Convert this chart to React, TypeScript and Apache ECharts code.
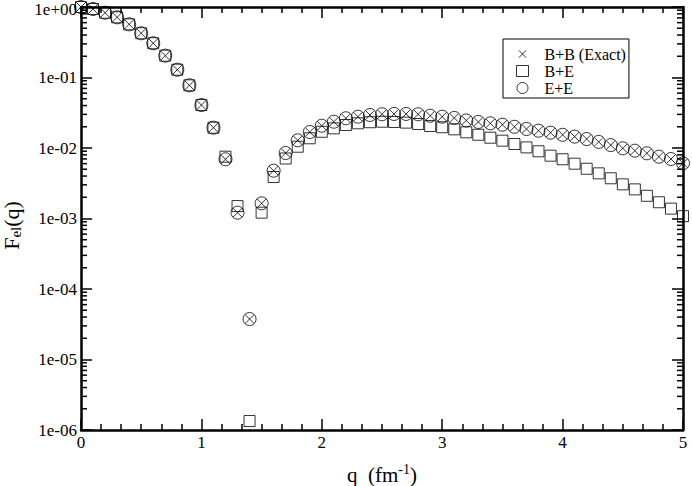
import React, { useEffect, useRef } from "react";
import * as echarts from "echarts";

const qValues = [
  0, 0.1, 0.2, 0.3, 0.4, 0.5, 0.6, 0.7, 0.8, 0.9, 1.0, 1.1, 1.2, 1.3, 1.4, 1.5, 1.6, 1.7, 1.8, 1.9,
  2.0, 2.1, 2.2, 2.3, 2.4, 2.5, 2.6, 2.7, 2.8, 2.9, 3.0, 3.1, 3.2, 3.3, 3.4, 3.5, 3.6, 3.7, 3.8, 3.9,
  4.0, 4.1, 4.2, 4.3, 4.4, 4.5, 4.6, 4.7, 4.8, 4.9, 5.0,
];

const exactBB = [
  1.0, 0.937, 0.83, 0.714, 0.568, 0.424, 0.306, 0.204, 0.129, 0.0775, 0.0407, 0.0194, 0.00692, 0.00121,
  3.75e-5, 1.64e-3, 4.77e-3, 8.49e-3, 0.01286, 0.01686, 0.0207, 0.0236, 0.0264, 0.0278, 0.0294, 0.0301,
  0.0304, 0.0304, 0.0301, 0.0287, 0.0278, 0.0267, 0.0246, 0.0234, 0.0224, 0.0214, 0.02, 0.0186, 0.0176,
  0.0165, 0.0154, 0.0145, 0.0134, 0.0122, 0.011, 0.0099, 0.00916, 0.00841, 0.00753, 0.00698, 0.00607,
];

const BE = [
  1.0, 0.937, 0.83, 0.714, 0.568, 0.424, 0.306, 0.204, 0.129, 0.0775, 0.0407, 0.0194, 0.00753, 0.0015,
  1.34e-6, 1.21e-3, 3.88e-3, 7.1e-3, 0.01043, 0.01373, 0.017, 0.019, 0.0212, 0.0224, 0.0232, 0.0236,
  0.0234, 0.0229, 0.0219, 0.0205, 0.0197, 0.0184, 0.0167, 0.0154, 0.014, 0.0127, 0.0114, 0.0102, 0.00898,
  0.00778, 0.00692, 0.00599, 0.00508, 0.00437, 0.00372, 0.00305, 0.00259, 0.0021, 0.0017, 0.00138, 0.00108,
];

const EE = [
  1.0, 0.937, 0.83, 0.714, 0.568, 0.424, 0.306, 0.204, 0.129, 0.0775, 0.0407, 0.0194, 0.00692, 0.00121,
  3.75e-5, 1.64e-3, 4.77e-3, 8.49e-3, 0.01286, 0.01686, 0.0207, 0.0236, 0.0264, 0.0278, 0.0294, 0.0301,
  0.0304, 0.0304, 0.0301, 0.0287, 0.0278, 0.0267, 0.0246, 0.0234, 0.0224, 0.0214, 0.02, 0.0186, 0.0176,
  0.0165, 0.0154, 0.0145, 0.0134, 0.0122, 0.011, 0.0099, 0.00916, 0.00841, 0.00753, 0.00698, 0.00607,
];

const seriesNames = ["B+B (Exact)", "B+E", "E+E"];
const decades = [1e-6, 1e-5, 1e-4, 1e-3, 1e-2, 1e-1];
const minorMultipliers = [2, 3, 4, 5, 6, 7, 8, 9];

const FONT = "Liberation Serif";
const CROSS = "path://M0,0L10,10M10,0L0,10";
const CROSS_LEGEND = "path://M0,0L0,0M2,2L10,10M10,2L2,10M12,12L12,12";

function fmtExp(v: number): string {
  const e = Math.round(Math.log10(v));
  const s = e >= 0 ? "+" : "-";
  const txt = "1e" + s + String(Math.abs(e)).padStart(2, "0");
  return e >= 0 ? "{t|" + txt + "}" : txt;
}

export default function App() {
  const ref = useRef<HTMLDivElement>(null);

  useEffect(() => {
    if (!ref.current) return;
    const chart = echarts.init(ref.current, undefined, { renderer: "svg" });

    const minorTickValues: number[][] = [];
    decades.forEach((d) => minorMultipliers.forEach((m) => minorTickValues.push([0, d * m])));

    const pts = (ys: number[]) => qValues.map((q, i) => [q, ys[i]]);

    const tickStyle = { color: "#000", width: 1.5 };
    const axisLine = { show: true, onZero: false, lineStyle: { color: "#000", width: 2.5 } };

    const option: any = {
      animation: false,
      backgroundColor: "#fff",
      grid: {
        left: 81,
        right: 9,
        top: 7,
        bottom: 56,
        containLabel: false,
        outerBoundsMode: "none",
      },
      legend: {
        orient: "vertical",
        left: 503,
        top: 39,
        padding: [7, 3, 2, 13],
        itemGap: 1,
        itemWidth: 12,
        itemHeight: 11,
        borderColor: "#000",
        borderWidth: 1,
        borderRadius: 0,
        selectedMode: false,
        itemStyle: { borderWidth: 1, borderColor: "#000", color: "rgba(0,0,0,0)" },
        textStyle: { fontFamily: FONT, fontSize: 16, color: "#000", padding: [0, 0, 0, 11] },
        data: [
          { name: seriesNames[0], icon: CROSS_LEGEND },
          { name: seriesNames[1], icon: "rect" },
          { name: seriesNames[2], icon: "circle" },
        ],
      },
      xAxis: [
        {
          type: "value",
          min: 0,
          max: 5,
          interval: 1,
          position: "bottom",
          axisLine,
          axisTick: { show: true, inside: true, length: 11, lineStyle: tickStyle },
          minorTick: { show: true, splitNumber: 6, length: 6, lineStyle: tickStyle },
          splitLine: { show: false },
          minorSplitLine: { show: false },
          axisLabel: { fontFamily: FONT, fontSize: 17, color: "#000", margin: 4 },
          name: "{a|q  (fm}{s|-1}{a|)}",
          nameLocation: "middle",
          nameGap: 32,
          nameTextStyle: {
            rich: {
              a: { fontFamily: FONT, fontSize: 21, color: "#000" },
              s: { fontFamily: FONT, fontSize: 14, color: "#000", padding: [0, 0, 12, 0] },
            },
          },
        },
        {
          type: "value",
          min: 0,
          max: 5,
          interval: 1,
          position: "top",
          axisLine,
          axisTick: { show: true, inside: true, length: 11, lineStyle: tickStyle },
          minorTick: { show: true, splitNumber: 6, length: 6, lineStyle: tickStyle },
          splitLine: { show: false },
          axisLabel: { show: false },
        },
      ],
      yAxis: [
        {
          type: "log",
          logBase: 10,
          min: 1e-6,
          max: 1,
          position: "left",
          axisLine,
          axisTick: { show: true, inside: true, length: 11, lineStyle: tickStyle },
          splitLine: { show: false },
          axisLabel: {
            fontFamily: FONT,
            fontSize: 17,
            lineHeight: 14,
            color: "#000",
            margin: 4,
            formatter: fmtExp,
            rich: {
              t: {
                fontFamily: FONT,
                fontSize: 17,
                lineHeight: 14,
                color: "#000",
                padding: [5, 0, 0, 0],
              },
            },
          },
          name: "{a|F}{b|el}{a|(q)}",
          nameLocation: "middle",
          nameGap: 57,
          nameTextStyle: {
            padding: [0, 14, 0, 0],
            rich: {
              a: { fontFamily: FONT, fontSize: 22, color: "#000" },
              b: { fontFamily: FONT, fontSize: 15, color: "#000", padding: [9, 0, 0, 0] },
            },
          },
        },
        {
          type: "log",
          logBase: 10,
          min: 1e-6,
          max: 1,
          position: "right",
          axisLine,
          axisTick: { show: true, inside: true, length: 11, lineStyle: tickStyle },
          splitLine: { show: false },
          axisLabel: { show: false },
        },
      ],
      series: [
        {
          name: seriesNames[0],
          type: "scatter",
          symbol: CROSS,
          symbolSize: 9,
          clip: false,
          itemStyle: { color: "rgba(0,0,0,0)", borderColor: "#000", borderWidth: 1 },
          data: pts(exactBB),
        },
        {
          name: seriesNames[1],
          type: "scatter",
          symbol: "rect",
          symbolSize: 11,
          clip: false,
          itemStyle: { color: "rgba(0,0,0,0)", borderColor: "#000", borderWidth: 1 },
          data: pts(BE),
        },
        {
          name: seriesNames[2],
          type: "scatter",
          symbol: "circle",
          symbolSize: 13,
          clip: false,
          itemStyle: { color: "rgba(0,0,0,0)", borderColor: "#000", borderWidth: 1 },
          data: pts(EE),
        },
        {
          name: "minorLogTicks",
          type: "custom",
          silent: true,
          clip: false,
          xAxisIndex: 0,
          yAxisIndex: 0,
          data: minorTickValues,
          renderItem: (params: any, api: any) => {
            const v = api.value(1);
            const pL = api.coord([0, v]);
            const pR = api.coord([5, v]);
            return {
              type: "group",
              children: [
                {
                  type: "line",
                  shape: { x1: pL[0], y1: pL[1], x2: pL[0] + 6, y2: pL[1] },
                  style: { stroke: "#000", lineWidth: 1.5 },
                },
                {
                  type: "line",
                  shape: { x1: pR[0] - 6, y1: pR[1], x2: pR[0], y2: pR[1] },
                  style: { stroke: "#000", lineWidth: 1.5 },
                },
              ],
            };
          },
        },
      ],
    };

    chart.setOption(option);
    return () => chart.dispose();
  }, []);

  return (
    <div
      ref={ref}
      style={{ position: "fixed", left: 0, top: 0, width: 692, height: 486 }}
    />
  );
}
